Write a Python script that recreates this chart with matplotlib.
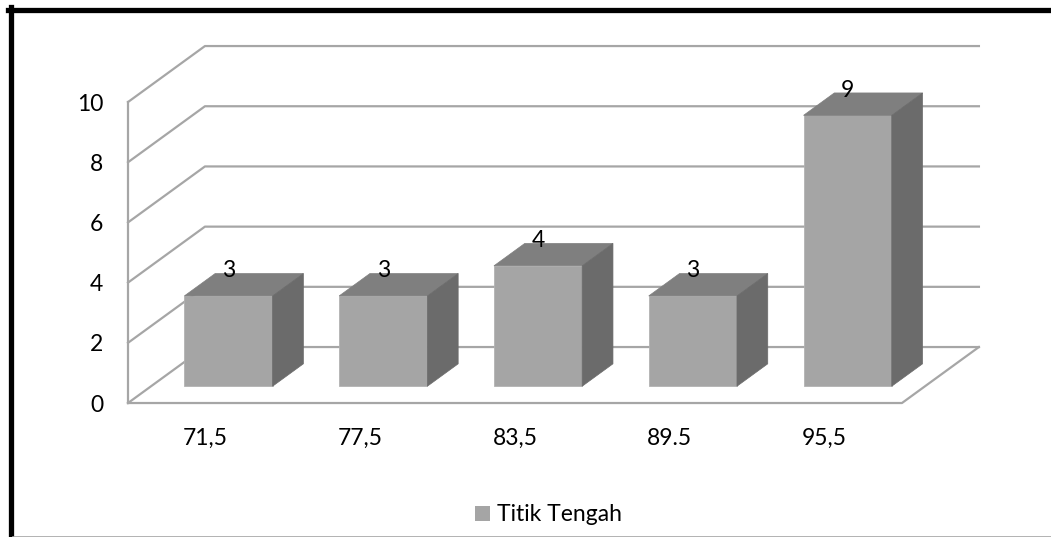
import matplotlib.pyplot as plt
from matplotlib.patches import Polygon, Patch
from matplotlib.lines import Line2D

plt.rcParams['font.family'] = ['Lato', 'DejaVu Sans']

categories = ["71,5", "77,5", "83,5", "89.5", "95,5"]
values = [3, 3, 4, 3, 9]
series_name = "Titik Tengah"

# fake 3d: depth vector in data units (categories, values)
depth_x = 0.497
depth_y = 1.86
f0, f1 = 0.3, 0.7      # bar sits between these fractions of the depth
bar_w = 0.57

front_c = "#A5A5A5"
top_c = "#7F7F7F"
side_c = "#6B6B6B"
grid_c = "#A6A6A6"
fs = 16.5

fig = plt.figure(figsize=(10.51, 5.37), dpi=100)
ax = fig.add_axes([0.1218, 0.2495, 0.7364, 0.5605])
n = len(categories)
x_lo, x_hi = -0.5, n - 0.5
ax.set_xlim(x_lo, x_hi)
ax.set_ylim(0, 10)

# walls and floor
for v in range(0, 11, 2):
    ax.plot([x_lo, x_lo + depth_x, x_hi + depth_x],
            [v, v + depth_y, v + depth_y],
            color=grid_c, lw=1.6, clip_on=False, zorder=1)
ax.plot([x_lo, x_lo], [0, 10], color=grid_c, lw=1.6, clip_on=False, zorder=1)
ax.plot([x_lo, x_hi, x_hi + depth_x], [0, 0, depth_y],
        color=grid_c, lw=1.6, clip_on=False, zorder=1)

# bars
d = f1 - f0
for i, v in enumerate(values):
    x0 = i - bar_w / 2 + f0 * depth_x
    x1 = x0 + bar_w
    y0 = f0 * depth_y
    y1 = v + f0 * depth_y
    ddx, ddy = d * depth_x, d * depth_y
    front = Polygon([(x0, y0), (x1, y0), (x1, y1), (x0, y1)],
                    facecolor=front_c, edgecolor="#B2B2B2", lw=0.6, zorder=3)
    top = Polygon([(x0, y1), (x1, y1), (x1 + ddx, y1 + ddy), (x0 + ddx, y1 + ddy)],
                  facecolor=top_c, edgecolor=top_c, lw=0.5, zorder=3)
    side = Polygon([(x1, y0), (x1 + ddx, y0 + ddy), (x1 + ddx, y1 + ddy), (x1, y1)],
                   facecolor=side_c, edgecolor=side_c, lw=0.5, zorder=3)
    for p in (front, top, side):
        p.set_clip_on(False)
        ax.add_patch(p)
    ax.annotate(str(v), xy=(i + f0 * depth_x, y1), xytext=(0, 13.5),
                textcoords="offset points", ha="center", va="baseline",
                fontsize=fs, zorder=5, annotation_clip=False)

ax.set_xticks(range(n))
ax.set_xticklabels(categories)
ax.set_yticks(range(0, 11, 2))
ax.tick_params(axis="both", length=0, labelsize=fs)
ax.tick_params(axis="x", pad=18)
ax.tick_params(axis="y", pad=18)
for s in ax.spines.values():
    s.set_visible(False)
ax.patch.set_visible(False)

fig.legend(handles=[Patch(facecolor=front_c, label=series_name)],
           loc="center", bbox_to_anchor=(0.522, 0.041), frameon=False,
           fontsize=fs, handlelength=0.65, handleheight=0.65, handletextpad=0.3)

# chart border
fig.add_artist(Line2D([10.5 / 1051, 10.5 / 1051], [0, 1 - 7 / 537],
                      transform=fig.transFigure, color="black", lw=3.8))
fig.add_artist(Line2D([8 / 1051, 1], [1 - 9.5 / 537, 1 - 9.5 / 537],
                      transform=fig.transFigure, color="black", lw=3.8))
fig.add_artist(Line2D([13 / 1051, 1], [0.5 / 537, 0.5 / 537],
                      transform=fig.transFigure, color="#A6A6A6", lw=1.2))

fig.savefig("out.png", dpi=100)
